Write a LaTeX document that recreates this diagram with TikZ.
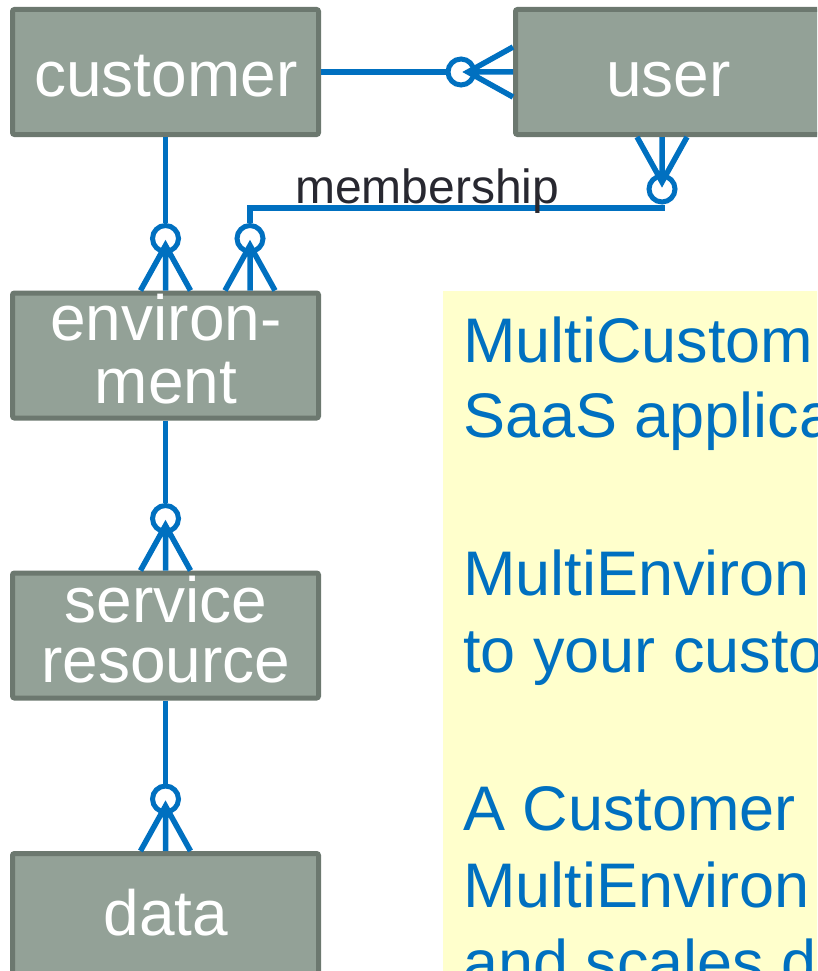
\documentclass[tikz,border=0pt]{standalone}
\usepackage{fontspec}
\setmainfont{Liberation Sans}
\usetikzlibrary{calc}

\definecolor{erblue}{RGB}{0,112,192}
\definecolor{boxfill}{RGB}{147,161,151}
\definecolor{boxline}{RGB}{108,120,111}
\definecolor{notefill}{RGB}{255,255,204}
\definecolor{labelgray}{RGB}{40,40,48}

\tikzset{
  entity/.style={draw=boxline, fill=boxfill, line width=5pt, rounded corners=2pt,
    minimum width=306pt, minimum height=125pt, inner sep=0pt, outer sep=2.5pt},
  entitytext/.style={text=white, font=\fontsize{64}{64}\selectfont, anchor=base, inner sep=0pt},
  rel/.style={draw=erblue, line width=5.5pt},
  zero/.style={circle, draw=erblue, fill=white, line width=5pt, minimum size=26pt,
    inner sep=0pt, outer sep=2.5pt},
  notetext/.style={text=erblue, font=\fontsize{63}{63}\selectfont, anchor=base west, inner sep=0pt},
  rellabel/.style={text=labelgray, font=\fontsize{48}{48}\selectfont, anchor=base west, inner sep=0pt},
}

% zero-or-many end: #1 point on the box edge, #2 direction pointing away from the box, #3 ring name
\newcommand{\zeroormany}[3]{%
  \begin{scope}[shift={(#1)}, rotate=#2]
    \node[zero] (#3) at (52,0) {};
    \draw[rel] (0,25) -- (45,0) -- (0,-25) (0,0) -- (45,0);
  \end{scope}}

\begin{document}
\begin{tikzpicture}[x=1pt, y=-1pt]
  \useasboundingbox (0,0) rectangle (817,971);
  \clip (0,0) rectangle (817,971);

  % note panel
  \fill[notefill] (443,291) rectangle (840,1000);
  \node[notetext] (n1) at (463,362) {MultiCustom};
  \node[notetext] (n2) at (463,437) {SaaS applica};
  \node[notetext] (n3) at (463,595) {MultiEnviron};
  \node[notetext] (n4) at (463,672) {to your custo};
  \node[notetext] (n5) at (463,830) {A Customer};
  \node[notetext] (n6) at (463,907) {MultiEnviron};
  \node[notetext] (n7) at (463,984) {and scales d};

  % entities
  \node[entity] (customer) at (165.5,72) {};
  \node[entity] (user) at (668.5,72) {};
  \node[entity] (environment) at (165.5,355.5) {};
  \node[entity] (service) at (165.5,635.5) {};
  \node[entity] (data) at (165.5,916) {};

  \node[entitytext] (customer-t) at (166,97) {customer};
  \node[entitytext] (user-t) at (668.5,97) {user};
  \node[entitytext] (environment-t1) at (166,340) {environ-};
  \node[entitytext] (environment-t2) at (166,403) {ment};
  \node[entitytext] (service-t1) at (166,622) {service};
  \node[entitytext] (service-t2) at (166,682) {resource};
  \node[entitytext] (data-t) at (166,935) {data};

  % relationships
  \zeroormany{user.west}{180}{ringU}
  \draw[rel] (customer.east) -- (ringU.west);

  \zeroormany{environment.north}{90}{ringE}
  \draw[rel] (customer.south) -- (ringE.north);

  \zeroormany{service.north}{90}{ringS}
  \draw[rel] (environment.south) -- (ringS.north);

  \zeroormany{data.north}{90}{ringD}
  \draw[rel] (service.south) -- (ringD.north);

  % membership between user and environment
  \coordinate (envM) at ([xshift=84.5pt]environment.north);
  \coordinate (userM) at ([xshift=-6.5pt]user.south);
  \zeroormany{envM}{90}{ringM1}
  \zeroormany{userM}{-90}{ringM2}
  \draw[rel] (ringM2.south) -- ++(0,3.5) -| (ringM1.north);
  \node[rellabel] (membership) at (295,203) {membership};
\end{tikzpicture}
\end{document}
